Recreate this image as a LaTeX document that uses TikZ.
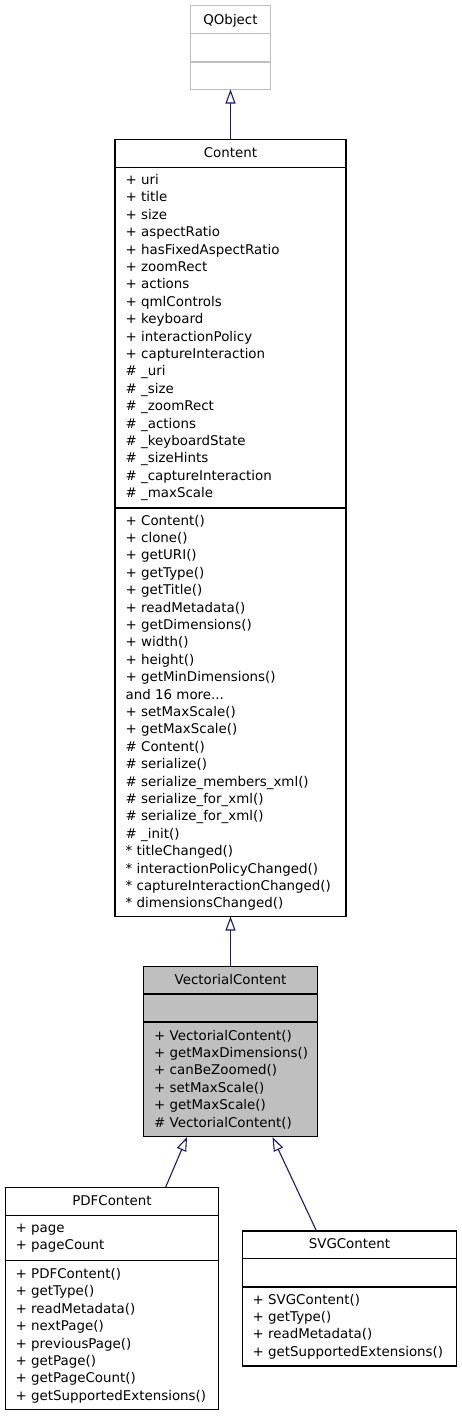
\documentclass[tikz,border=0pt]{standalone}
\usepackage{fontspec}
\setmainfont{DejaVu Sans}
\usetikzlibrary{arrows.meta}
\definecolor{navy}{HTML}{191970}
\definecolor{boxgray}{HTML}{BFBFBF}
\newcommand\umlmembers[4]{%
  \foreach \t [count=\i from 0] in {#4}{\node[mem] (#1-\i) at (#2,{#3+17.4*\i}) {\t};}}
\newcommand\moredots{and 16 more.{}.{}.}
\begin{document}
\begin{tikzpicture}[x=1pt,y=-1pt,
  font=\fontsize{13.4}{16}\selectfont,
  cls/.style={draw=black, line width=1.1pt, fill=white, anchor=north west, inner sep=0pt, outer sep=0pt},
  sep/.style={draw=black, line width=1.1pt},
  mem/.style={anchor=base west, inner sep=0pt},
  ttl/.style={anchor=base, inner sep=0pt},
  inh/.style={draw=navy, line width=1.1pt, -{Triangle[open,length=14pt,width=10pt]}}]
\useasboundingbox (0,0) rectangle (461,1416);

% QObject
\node[cls, draw=boxgray, minimum width=80pt, minimum height=84pt] (qobj) at (190.5,5.5) {};
\draw[draw=boxgray, line width=1.1pt] (qobj.west |- 0,33.5) -- (qobj.east |- 0,33.5);
\draw[draw=boxgray, line width=1.1pt] (qobj.west |- 0,62) -- (qobj.east |- 0,62);
\node[ttl] (qobj-t) at (230.5,24) {QObject};

% Content
\node[cls, minimum width=231pt, minimum height=777pt] (content) at (115,139.5) {};
\draw[sep] (content.west |- 0,167.5) -- (content.east |- 0,167.5);
\draw[sep] (content.west |- 0,508) -- (content.east |- 0,508);
\node[ttl] (content-t) at (230.5,157.5) {Content};
\umlmembers{ca}{125.5}{184.5}{+ uri,+ title,+ size,+ aspectRatio,+ hasFixedAspectRatio,+ zoomRect,+ actions,+ qmlControls,+ keyboard,+ interactionPolicy,+ captureInteraction,\# \_uri,\# \_size,\# \_zoomRect,\# \_actions,\# \_keyboardState,\# \_sizeHints,\# \_captureInteraction,\# \_maxScale}
\umlmembers{cm}{125.5}{525}{+ Content(),+ clone(),+ getURI(),+ getType(),+ getTitle(),+ readMetadata(),+ getDimensions(),+ width(),+ height(),+ getMinDimensions(),\moredots,+ setMaxScale(),+ getMaxScale(),\# Content(),\# serialize(),\# serialize\_members\_xml(),\# serialize\_for\_xml(),\# serialize\_for\_xml(),\# \_init(),* titleChanged(),* interactionPolicyChanged(),* captureInteractionChanged(),* dimensionsChanged()}

% VectorialContent
\node[cls, fill=boxgray, minimum width=174pt, minimum height=170pt] (vc) at (143.5,966.5) {};
\draw[sep] (vc.west |- 0,994) -- (vc.east |- 0,994);
\draw[sep] (vc.west |- 0,1022) -- (vc.east |- 0,1022);
\node[ttl] (vc-t) at (230.5,984) {VectorialContent};
\umlmembers{vm}{154}{1040}{+ VectorialContent(),+ getMaxDimensions(),+ canBeZoomed(),+ setMaxScale(),+ getMaxScale(),\# VectorialContent()}

% PDFContent
\node[cls, minimum width=213pt, minimum height=222pt] (pdf) at (5.5,1187.5) {};
\draw[sep] (pdf.west |- 0,1215.5) -- (pdf.east |- 0,1215.5);
\draw[sep] (pdf.west |- 0,1260.5) -- (pdf.east |- 0,1260.5);
\node[ttl] (pdf-t) at (112,1205.5) {PDFContent};
\umlmembers{pa}{15.5}{1232.5}{+ page,+ pageCount}
\umlmembers{pm}{15.5}{1278.5}{+ PDFContent(),+ getType(),+ readMetadata(),+ nextPage(),+ previousPage(),+ getPage(),+ getPageCount(),+ getSupportedExtensions()}

% SVGContent
\node[cls, minimum width=214pt, minimum height=135pt] (svg) at (242.5,1231) {};
\draw[sep] (svg.west |- 0,1258.5) -- (svg.east |- 0,1258.5);
\draw[sep] (svg.west |- 0,1287) -- (svg.east |- 0,1287);
\node[ttl] (svg-t) at (349.5,1248.5) {SVGContent};
\umlmembers{sm}{252.5}{1304}{+ SVGContent(),+ getType(),+ readMetadata(),+ getSupportedExtensions()}

% inheritance connectors
\draw[inh] (content.north) -- (content.north |- qobj.south);
\draw[inh] (vc.north) -- (vc.north |- content.south);
\coordinate (pdfA) at (165.5,1187.5);
\coordinate (vcA) at (187,1137);
\draw[inh] (pdfA) -- (vcA);
\coordinate (svgA) at (316.5,1231);
\coordinate (vcB) at (272.5,1137);
\draw[inh] (svgA) -- (vcB);
\end{tikzpicture}
\end{document}
